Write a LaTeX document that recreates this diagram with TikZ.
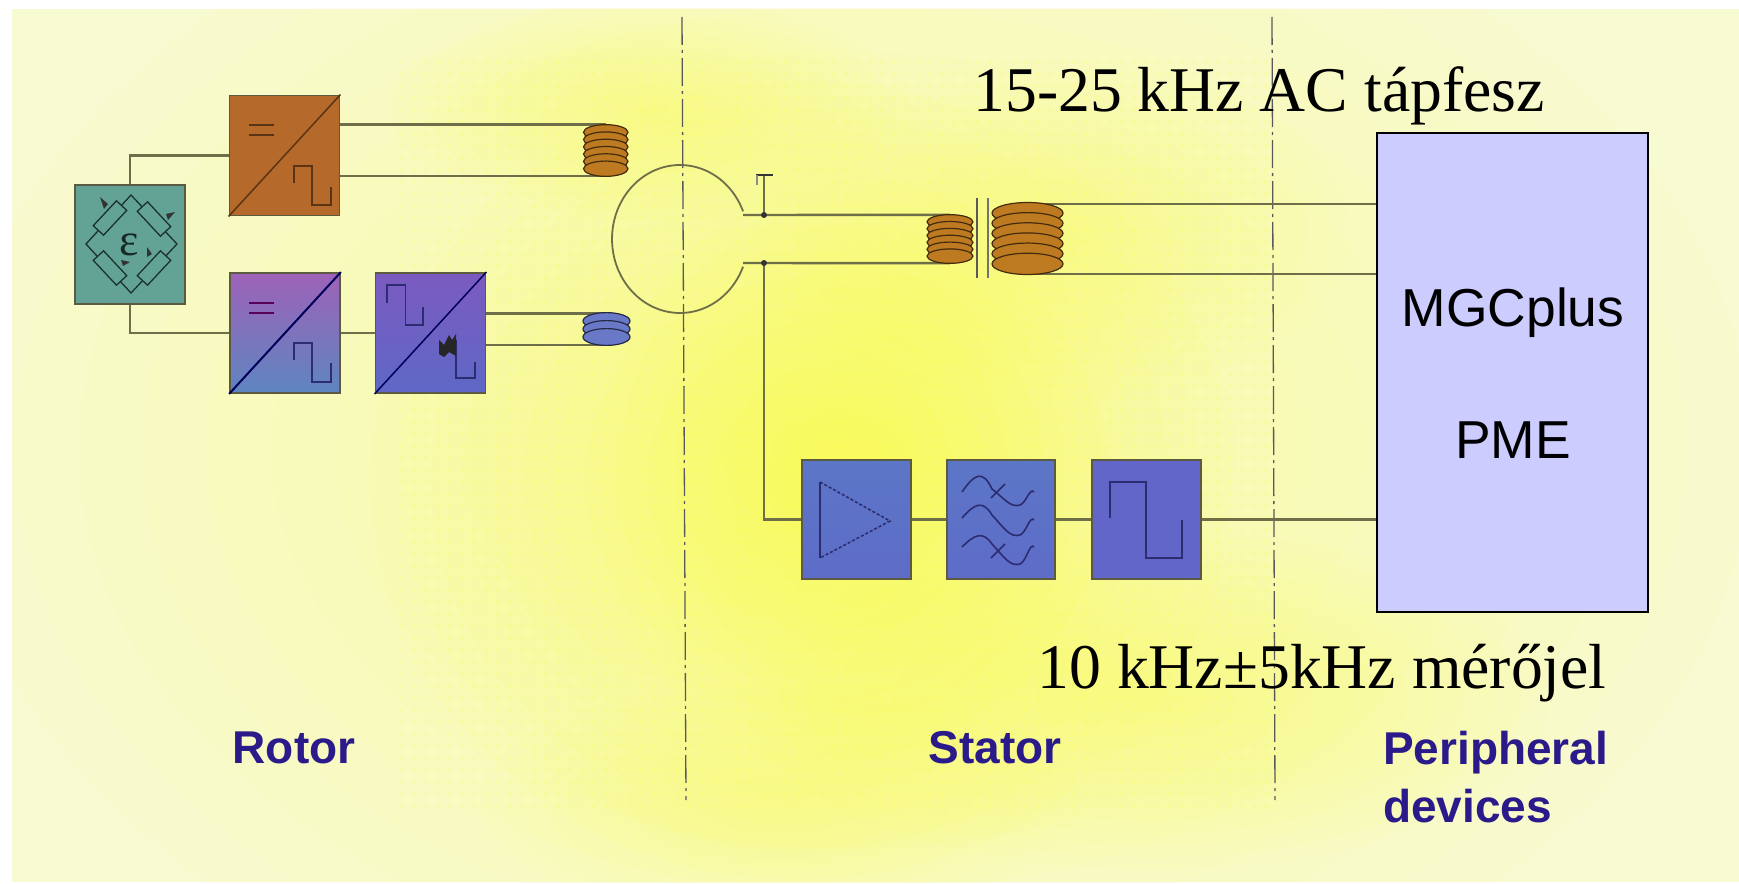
\documentclass[tikz,border=0pt]{standalone}
\usepackage{fontspec}
\setmainfont{Liberation Serif}
\newfontfamily\hv{Liberation Sans}
\definecolor{wirec}{HTML}{6E6E48}
\definecolor{edgec}{HTML}{5C5A40}
\definecolor{symc}{HTML}{2C2C70}
\definecolor{brownc}{HTML}{B5692A}
\definecolor{coilc}{HTML}{BE7A20}
\definecolor{tealc}{HTML}{62A396}
\definecolor{labelc}{HTML}{2A1A8A}
\definecolor{bgp}{HTML}{F8FAD2}
\definecolor{bgy}{HTML}{FBFB40}
\definecolor{purA}{HTML}{9E62B8}
\definecolor{purB}{HTML}{5E85C0}
\definecolor{vioA}{HTML}{7C5AC0}
\definecolor{vioB}{HTML}{5E68C6}
\definecolor{ampA}{HTML}{5C76C6}
\definecolor{ampM}{HTML}{5F8CC2}
\definecolor{ampB}{HTML}{5E6CC8}
\definecolor{sqrc}{HTML}{6266C8}
\definecolor{coilb}{HTML}{6A78C8}
\tikzset{
 x=1pt,y=-1pt,
 wire/.style={draw=wirec,line width=2.4pt},
 block/.style={draw=edgec,line width=1.8pt,minimum width=#1,inner sep=0pt,rectangle},
 block/.default=110pt,
 sym/.style={draw=symc,line width=1.6pt},
 axisline/.style={draw=black!65,line width=1.3pt,dash pattern=on 28pt off 5pt on 3pt off 5pt},
 lab/.style={font=\hv\bfseries\fontsize{46}{58}\selectfont,text=labelc,inner sep=0pt,align=left},
 big/.style={font=\fontsize{63.7}{70}\selectfont,inner sep=0pt},
 hvt/.style={font=\hv\fontsize{53.4}{58}\selectfont,inner sep=0pt},
 coilnode/.style={inner sep=0pt,rectangle,minimum width=#1},
}
\newcommand{\blob}[5]{\foreach \k in {1,...,14}{\fill[bgy,opacity=#5] (#1,#2) ellipse [x radius={#3*\k/14},y radius={#4*\k/14}];}}
% coil: xl xr ytop ybot n fill; upper turns first, so the last turn lies whole on top
\newcommand{\coilstack}[6]{%
 \pgfmathsetmacro{\rx}{(#2-#1)/2}\pgfmathsetmacro{\cx}{(#1+#2)/2}%
 \pgfmathsetmacro{\ry}{(#4-#3)/(#5+1)}%
 \foreach \k in {1,...,#5}{%
  \pgfmathsetmacro{\cy}{#3+\ry*\k}%
  \fill[#6,draw=black!65!#6,line width=1.2pt] (\cx,\cy) ellipse [x radius=\rx,y radius=\ry*1.05];}}
\newcommand{\resistor}[3]{\begin{scope}[shift={(#1,#2)},rotate=#3]
 \draw[fill=tealc,draw=black!70!tealc,line width=1.3pt] (-17,-7) rectangle (17,7);
 \end{scope}}
\begin{document}
\begin{tikzpicture}
\useasboundingbox (0,0) rectangle (1739,883);
\fill[white] (0,0) rectangle (1739,883);
\begin{scope}
\clip (12,9) rectangle (1739,882);
\fill[bgp] (12,9) rectangle (1739,882);
\blob{850}{450}{900}{620}{.025}
\blob{800}{480}{430}{400}{.035}
\blob{860}{480}{260}{300}{.035}
\blob{650}{110}{260}{110}{.03}
\blob{1050}{230}{300}{170}{.025}
\blob{1150}{700}{400}{170}{.03}
\blob{780}{800}{300}{120}{.025}
\fill[bgy,opacity=.10] \foreach \i in {0,...,72}{\foreach \j in {0,...,62}{(400+12*\i,60+12*\j) rectangle ++(4,4)}};
\end{scope}

% axes
\coordinate (a1t) at (682,17); \coordinate (a1b) at (686,800);
\coordinate (a2t) at (1272,17); \coordinate (a2b) at (1275,800);
\draw[axisline] (a1t) -- (a1b);
\draw[axisline] (a2t) -- (a2b);

% blocks
\node[block=110pt,minimum height=119pt,fill=tealc] (teal) at (130,244.5) {};
\node[block=110pt,minimum height=120pt,fill=brownc] (brownb) at (284.5,155.5) {};
\node[block=110pt,minimum height=120pt,top color=purA,bottom color=purB] (blueb) at (285,333) {};
\node[block=110pt,minimum height=120pt,top color=vioA,bottom color=vioB] (purp) at (430.5,333) {};
\node[block=109pt,minimum height=119pt,top color=ampA,middle color=ampM,bottom color=ampB] (amp) at (856.5,519.5) {};
\node[block=108pt,minimum height=119pt,top color=ampA,middle color=ampM,bottom color=ampB] (filt) at (1001,519.5) {};
\node[block=109pt,minimum height=119pt,fill=sqrc] (sqr) at (1146.5,519.5) {};
\node[draw=black,line width=1.6pt,fill=blue!20!white,minimum width=271pt,minimum height=479pt,inner sep=0pt] (mgc) at (1512.5,372.5) {};
\node[hvt] (t1) at (1513,313) {MGCplus};
\node[hvt] (t2) at (1513,440) {PME};

% coil nodes
\node[coilnode=45pt,minimum height=51pt] (c1) at (606,150) {};
\node[coilnode=47pt,minimum height=31pt] (c2) at (606.5,329) {};
\node[coilnode=46pt,minimum height=48pt] (c3) at (950,239) {};
\node[coilnode=71pt,minimum height=70pt] (c4) at (1027.5,239) {};
\coordinate (n1) at (743,215); \coordinate (n2) at (743,263);
\coordinate (d1) at (764,215); \coordinate (d2) at (764,263);
\coordinate (tt) at (764,175);

% wires
\draw[wire] (teal.north) |- (brownb.west);
\draw[wire] (teal.south) |- (blueb.west);
\draw[wire] (brownb.east |- c1.north) -- (c1.north);
\draw[wire] (brownb.east |- c1.south) -- (c1.south);
\draw[wire] (blueb.east) -- (purp.west);
\draw[wire] (purp.east |- c2.north) -- (c2.north);
\draw[wire] (purp.east |- c2.south) -- (c2.south);
\draw[wire] (n1) -- (c3.north);
\draw[wire] (n2) -- (c3.south);
\draw[wire] (c4.north) -- (mgc.west |- c4.north);
\draw[wire] (c4.south) -- (mgc.west |- c4.south);
\draw[wire] (amp.east) -- (filt.west);
\draw[wire] (filt.east) -- (sqr.west);
\draw[wire] (sqr.east) -- (mgc.west |- sqr.east);
\draw[wire] (d2) |- (amp.west);
\draw[wire] (d1) -- (tt);
\draw[draw=black!80,line width=2.4pt] (756,175) -- (773,175);
\draw[draw=black!45,line width=1.2pt] (757,175) -- (757,185);
\fill[black!80] (d1) circle (3); \fill[black!80] (d2) circle (3);

% loop
\draw[draw=wirec,line width=1.8pt] plot[domain=-22:-338,samples=90] ({680+68*cos(\x)},{239+74*sin(\x)});

% coils
\coilstack{583.5}{628}{125}{176}{6}{coilc}
\coilstack{583}{630}{313}{345}{3}{coilb}
\coilstack{927}{973}{215}{263}{6}{coilc}
\coilstack{992}{1063}{203}{274}{6}{coilc}
\draw[draw=black!65,line width=1.5pt] (977,198) -- (977,278);
\draw[draw=black!55,line width=1.5pt] (988,198) -- (988,278);

% bridge
\draw[draw=black!70!tealc,line width=1.3pt] (131,195) -- (177,244) -- (131,293) -- (86,244) -- cycle;
\resistor{110}{218}{47}
\resistor{154}{219}{-47}
\resistor{110}{268}{-47}
\resistor{154}{268}{47}
\node[font=\fontsize{46}{48}\selectfont,inner sep=0pt,text=black!75!tealc] (eps) at (129,245) {ε};
\fill[black!80] (100,197) -- (108,204) -- (104,209) -- cycle;
\fill[black!80] (175,212) -- (166,214) -- (168,220) -- cycle;
\fill[black!80] (147,247) -- (152,254) -- (147,257) -- cycle;
\fill[black!80] (130,262) -- (121,260) -- (123,266) -- cycle;

% brown symbols
\draw[draw=brownc!50!black,line width=1.5pt] (249,125) -- (274,125) (249,135) -- (274,135);
\draw[draw=brownc!50!black,line width=1.5pt] (294,183) -- (294,166) -- (312,166) -- (312,205) -- (331,205) -- (331,187);
\draw[draw=brownc!50!black,line width=1.5pt] (brownb.south west) -- (brownb.north east);
% blue1 symbols
\draw[draw=violet!70!black,line width=1.6pt] (249,303) -- (274,303) (249,313) -- (274,313);
\draw[sym] (294,360) -- (294,343) -- (312,343) -- (312,382) -- (331,382) -- (331,363);
\draw[draw=blue!35!black,line width=2pt] (blueb.south west) -- (blueb.north east);
% purple symbols
\draw[sym] (387,303) -- (387,285) -- (405.5,285) -- (405.5,325) -- (423,325) -- (423,307);
\draw[sym] (456,340) -- (456,378) -- (475,378) -- (475,362);
\fill[black!85] (439,340) -- (444,345) -- (449,335) -- (452,340) -- (456,334) -- (456,356) -- (449,352) -- (444,357) -- (439,354) -- cycle;
\draw[draw=blue!35!black,line width=1.5pt] (purp.south west) -- (purp.north east);

% amp
\draw[sym] (820,482) -- (820,558);
\draw[sym,densely dashed] (820,482) -- (890,521) -- (820,558);
% filter
\foreach \yy/\aa/\bb/\cc in {492/473/505/492,518/503/535/520,547/534/564/547}{
 \draw[sym] (962,\yy) .. controls (975,\aa) and (983,\aa-3) .. (992,\yy-3) .. controls (1004,\bb-7) and (1010,\bb+3) .. (1020,\bb) .. controls (1026,\bb-2) and (1030,\cc-5) .. (1034,\cc);
}
\draw[sym] (991,498) -- (1005,484); \draw[sym] (991,558) -- (1005,544);
% square
\draw[draw=symc,line width=2pt] (1110,518) -- (1110,482) -- (1146,482) -- (1146,558) -- (1182,558) -- (1182,520);

% text
\node[big] (top) at (1259,96) {15-25 kHz AC tápfesz};
\node[big] (bot) at (1322,673) {10 kHz±5kHz mérőjel};
\node[lab] (rot) at (294,748) {Rotor};
\node[lab] (sta) at (995,748) {Stator};
\node[lab,anchor=west] (per) at (1383,777) {Peripheral\\devices};
\end{tikzpicture}
\end{document}
